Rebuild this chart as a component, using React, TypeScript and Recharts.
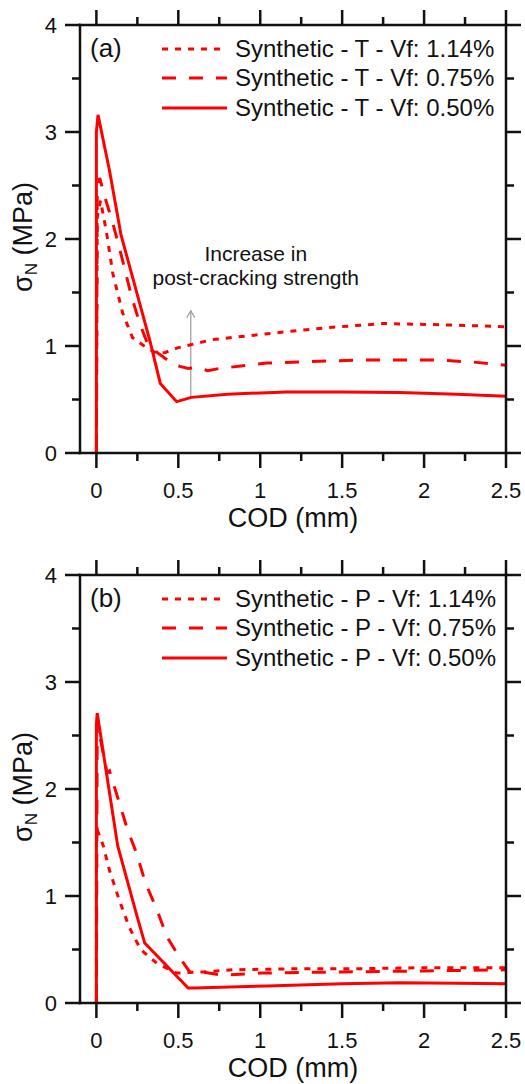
import React from "react";
import { LineChart, Line, XAxis, YAxis, Legend, ReferenceLine, Label } from "recharts";

const FONT = '"Liberation Sans", Arial, Helvetica, sans-serif';
const RED = "#ff0000";
const INK = "#111";

// axis ticks: labelled majors + unlabelled minors
const xMajor = [0, 0.5, 1, 1.5, 2, 2.5];
const xMinor = [0.25, 0.75, 1.25, 1.75, 2.25];
const yMajor = [0, 1, 2, 3, 4];
const yMinor = [0.5, 1.5, 2.5, 3.5];

// panel (a): T fibres  [COD mm, sigma_N MPa]
const tVf114 = [
  [0, 0], [0.005, 2.2], [0.025, 2.36], [0.06, 2.08], [0.1, 1.68], [0.16, 1.31],
  [0.22, 1.08], [0.3, 0.99], [0.37, 0.93], [0.42, 0.94], [0.49, 0.98], [0.57, 1.01],
  [0.71, 1.06], [0.83, 1.08], [1.14, 1.13], [1.4, 1.17], [1.75, 1.21], [2.06, 1.2],
  [2.3, 1.19], [2.5, 1.18],
];
const tVf075 = [
  [0, 0], [0.005, 2.45], [0.02, 2.57], [0.05, 2.4], [0.1, 2.15], [0.155, 1.83],
  [0.215, 1.46], [0.265, 1.21], [0.31, 1.03], [0.37, 0.94], [0.46, 0.84], [0.51, 0.81],
  [0.56, 0.79], [0.61, 0.8], [0.68, 0.77], [0.75, 0.79], [1.04, 0.84], [1.4, 0.86],
  [1.65, 0.87], [2.06, 0.87], [2.3, 0.85], [2.5, 0.82],
];
const tVf050 = [
  [0, 0], [0, 3.0], [0.01, 3.16], [0.08, 2.64], [0.15, 2.04], [0.33, 1.03],
  [0.39, 0.65], [0.49, 0.48], [0.58, 0.52], [0.8, 0.55], [1.16, 0.57], [1.5, 0.57],
  [1.85, 0.565], [2.2, 0.55], [2.5, 0.53],
];

// panel (b): P fibres
const pVf114 = [
  [0, 0], [0, 1.5], [0.01, 1.6], [0.04, 1.48], [0.08, 1.24], [0.14, 0.96], [0.2, 0.71],
  [0.27, 0.5], [0.37, 0.37], [0.49, 0.28], [0.65, 0.29], [0.83, 0.31], [1.2, 0.32],
  [1.6, 0.32], [2.0, 0.33], [2.5, 0.33],
];
const pVf075 = [
  [0, 0], [0.005, 2.62], [0.065, 2.15], [0.08, 2.17], [0.14, 1.87], [0.19, 1.62],
  [0.245, 1.4], [0.3, 1.12], [0.37, 0.87], [0.43, 0.62], [0.51, 0.42], [0.57, 0.29],
  [0.65, 0.29], [0.77, 0.26], [1.0, 0.28], [1.5, 0.29], [2.0, 0.3], [2.5, 0.31],
];
const pVf050 = [
  [0, 0], [0, 2.6], [0.005, 2.71], [0.13, 1.47], [0.25, 0.8], [0.295, 0.56],
  [0.56, 0.14], [0.6, 0.14], [1.04, 0.16], [1.5, 0.18], [1.85, 0.19], [2.2, 0.185],
  [2.5, 0.18],
];

const DOT = "6 7";
const DASH = "14 13";

type Series = { name: string; data: number[][]; dash?: string };

const seriesA: Series[] = [
  { name: "Synthetic - T - Vf: 1.14%", data: tVf114, dash: DOT },
  { name: "Synthetic - T - Vf: 0.75%", data: tVf075, dash: DASH },
  { name: "Synthetic - T - Vf: 0.50%", data: tVf050 },
];
const seriesB: Series[] = [
  { name: "Synthetic - P - Vf: 1.14%", data: pVf114, dash: DOT },
  { name: "Synthetic - P - Vf: 0.75%", data: pVf075, dash: DASH },
  { name: "Synthetic - P - Vf: 0.50%", data: pVf050 },
];

// arrow of the annotation in (a)
const arrowSeg = [
  { x: 0.576, y: 0.51 },
  { x: 0.576, y: 1.33 },
];

const toPts = (a: number[][]) => a.map(([cod, s]) => ({ cod, s }));

const TW = 2.5; // tick / frame thickness
const MAJOR = 15;
const MINOR = 8;

const XLabel = (p: any) => (
  <text x={p.x} y={p.y + 30} textAnchor="middle" fontSize={22} fontFamily={FONT} fill={INK}>
    {String(p.payload.value)}
  </text>
);

const YLabel = (p: any) => (
  <text x={p.x - 8} y={p.y + 8} textAnchor="end" fontSize={22} fontFamily={FONT} fill={INK}>
    {String(p.payload.value)}
  </text>
);

const NoLabel = () => <g />;

// minor ticks drawn at both ends of a reference line, pointing outwards
const MinorX = (p: any) => {
  const t = Math.min(p.y1, p.y2);
  const b = Math.max(p.y1, p.y2);
  return (
    <g>
      <line x1={p.x1} x2={p.x1} y1={t} y2={t - MINOR} stroke={INK} strokeWidth={TW} />
      <line x1={p.x1} x2={p.x1} y1={b} y2={b + MINOR} stroke={INK} strokeWidth={TW} />
    </g>
  );
};

const MinorY = (p: any) => {
  const l = Math.min(p.x1, p.x2);
  const r = Math.max(p.x1, p.x2);
  return (
    <g>
      <line x1={l} x2={l - MINOR} y1={p.y1} y2={p.y1} stroke={INK} strokeWidth={TW} />
      <line x1={r} x2={r + MINOR} y1={p.y1} y2={p.y1} stroke={INK} strokeWidth={TW} />
    </g>
  );
};

const ArrowNote = (p: any) => {
  const { x1, y1, x2, y2 } = p;
  const top = Math.min(y1, y2);
  const bot = Math.max(y1, y2);
  const x = x2;
  return (
    <g>
      <line x1={x} x2={x} y1={bot} y2={top} stroke="#9a9a9a" strokeWidth={1.2} />
      <polyline
        points={`${x - 4},${top + 7} ${x},${top} ${x + 4},${top + 7}`}
        fill="none"
        stroke="#9a9a9a"
        strokeWidth={1.2}
      />
      <text x={x + 65} y={top - 50} textAnchor="middle" fontSize={21} fontFamily={FONT} fill={INK}>
        Increase in
      </text>
      <text x={x + 65} y={top - 26} textAnchor="middle" fontSize={21} fontFamily={FONT} fill={INK}>
        post-cracking strength
      </text>
    </g>
  );
};

function Panel({ top, height, tag, series, note }: { top: number; height: number; tag: string; series: Series[]; note?: boolean }) {
  const axisLine = { stroke: INK, strokeWidth: TW, strokeLinecap: "square" as const };
  const tickLine = { stroke: INK, strokeWidth: TW };
  const renderLegend = (props: any) => {
    const items = [...(props.payload || [])].sort(
      (a: any, b: any) => series.findIndex((s) => s.name === a.value) - series.findIndex((s) => s.name === b.value)
    );
    return (
      <div style={{ fontFamily: FONT, fontSize: 24, color: INK }}>
        {items.map((e: any) => {
          const s = series.find((d) => d.name === e.value);
          return (
            <div key={e.value} style={{ display: "flex", alignItems: "center", height: 29.5 }}>
              <svg width={65} height={8} style={{ display: "block" }}>
                <line x1={0} x2={65} y1={4} y2={4} stroke={RED} strokeWidth={3} strokeDasharray={s?.dash} />
              </svg>
              <span style={{ marginLeft: 8, whiteSpace: "nowrap" }}>{e.value}</span>
            </div>
          );
        })}
      </div>
    );
  };

  return (
    <div style={{ position: "absolute", left: 0, top, width: 525, height }}>
      <LineChart width={525} height={height} margin={{ top: 10, right: 4, bottom: height - 453 - 40, left: 40 }}>
        <XAxis
          xAxisId="bottom"
          dataKey="cod"
          type="number"
          domain={[-0.1, 2.5]}
          ticks={xMajor}
          interval={0}
          height={40}
          tickLine={tickLine}
          tickSize={MAJOR}
          tickMargin={0}
          axisLine={axisLine}
          tick={XLabel}
        >
          <Label
            content={(lp: any) => {
              const vb = lp.viewBox;
              return (
                <text x={vb.x + vb.width / 2} y={vb.y + 74} textAnchor="middle" fontSize={27} fontFamily={FONT} fill={INK}>
                  COD (mm)
                </text>
              );
            }}
          />
        </XAxis>
        <XAxis
          xAxisId="top"
          dataKey="cod"
          orientation="top"
          type="number"
          domain={[-0.1, 2.5]}
          allowDataOverflow
          ticks={xMajor}
          interval={0}
          height={15}
          tickLine={tickLine}
          tickSize={MAJOR}
          tickMargin={0}
          axisLine={axisLine}
          tick={NoLabel}
        />
        <YAxis
          yAxisId="left"
          type="number"
          domain={[0, 4]}
          ticks={yMajor}
          interval={0}
          width={40}
          tickLine={tickLine}
          tickSize={MAJOR}
          tickMargin={0}
          axisLine={axisLine}
          tick={YLabel}
        >
          <Label
            content={(lp: any) => {
              const vb = lp.viewBox;
              const cx = 31.5;
              const cy = vb.y + vb.height / 2 - 2;
              return (
                <text
                  x={cx}
                  y={cy}
                  transform={`rotate(-90, ${cx}, ${cy})`}
                  textAnchor="middle"
                  fontSize={27}
                  fontFamily={FONT}
                  fill={INK}
                >
                  σ
                  <tspan fontSize={17} dy={5}>
                    N
                  </tspan>
                  <tspan dy={-5}> (MPa)</tspan>
                </text>
              );
            }}
          />
        </YAxis>
        <YAxis
          yAxisId="right"
          orientation="right"
          type="number"
          domain={[0, 4]}
          allowDataOverflow
          ticks={yMajor}
          interval={0}
          width={15}
          tickLine={tickLine}
          tickSize={MAJOR}
          tickMargin={0}
          axisLine={axisLine}
          tick={NoLabel}
        />
        {xMinor.map((v) => (
          <ReferenceLine key={`mx${v}`} xAxisId="bottom" yAxisId="left" x={v} shape={MinorX} />
        ))}
        {yMinor.map((v) => (
          <ReferenceLine key={`my${v}`} xAxisId="bottom" yAxisId="left" y={v} shape={MinorY} />
        ))}
        {note && (
          <ReferenceLine
            xAxisId="bottom"
            yAxisId="left"
            segment={arrowSeg}
            shape={(p: any) => <ArrowNote {...p} />}
          />
        )}
        {series.map((s) => (
          <Line
            key={s.name}
            name={s.name}
            data={toPts(s.data)}
            dataKey="s"
            xAxisId="bottom"
            yAxisId="left"
            type="linear"
            stroke={RED}
            strokeWidth={3}
            strokeDasharray={s.dash}
            dot={false}
            activeDot={false}
            isAnimationActive={false}
          />
        ))}
        <Legend
          layout="vertical"
          align="center"
          verticalAlign="middle"
          content={renderLegend}
          wrapperStyle={{ top: 34, left: 162, width: "auto", height: "auto", margin: 0, padding: 0 }}
        />
      </LineChart>
      <div
        style={{
          position: "absolute",
          left: 90,
          top: 35,
          fontFamily: FONT,
          fontSize: 26,
          lineHeight: 1,
          color: INK,
        }}
      >
        {tag}
      </div>
    </div>
  );
}

export default function App() {
  return (
    <div
      style={{
        position: "absolute",
        left: 0,
        top: 0,
        width: 525,
        height: 1084,
        overflow: "hidden",
        background: "#fff",
      }}
    >
      <Panel top={0} height={540} tag="(a)" series={seriesA} note />
      <Panel top={550} height={534} tag="(b)" series={seriesB} />
    </div>
  );
}
